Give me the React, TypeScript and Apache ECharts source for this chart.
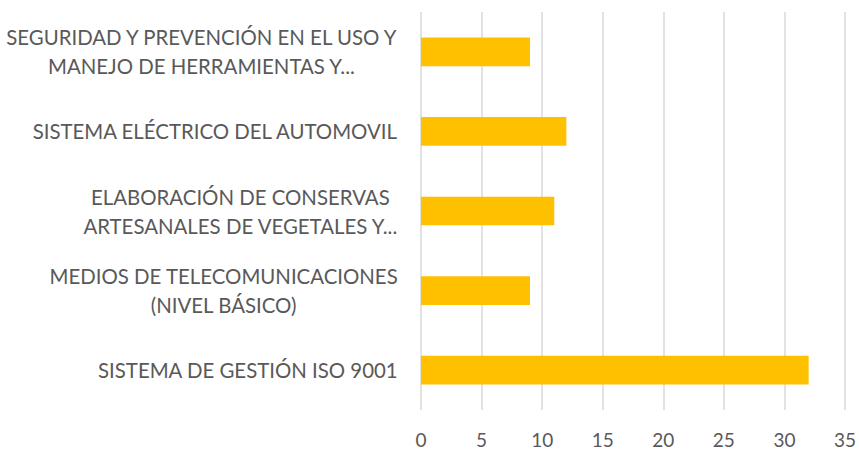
import React, { useEffect, useRef } from "react";
import * as echarts from "echarts";

const categories: string[] = [
  "SEGURIDAD Y PREVENCIÓN EN EL USO Y\nMANEJO DE HERRAMIENTAS Y...",
  "SISTEMA ELÉCTRICO DEL AUTOMOVIL",
  "ELABORACIÓN DE CONSERVAS\nARTESANALES DE VEGETALES Y...",
  "MEDIOS DE TELECOMUNICACIONES\n(NIVEL BÁSICO)",
  "SISTEMA DE GESTIÓN ISO 9001",
];
const values: number[] = [9, 12, 11, 9, 32];
const xMin = 0;
const xMax = 35;
const xInterval = 5;

const FONT = "Lato";
const LABEL_SIZE = 20.4;
const TEXT_COLOR = "#595959";
const BAR_COLOR = "#FFC000";

export default function App() {
  const ref = useRef<HTMLDivElement>(null);
  useEffect(() => {
    if (!ref.current) return;
    const chart = echarts.init(ref.current, null, { renderer: "svg" });
    chart.setOption({
      animation: false,
      grid: {
        left: 421,
        right: 14,
        top: 12,
        bottom: 40,
        containLabel: false,
        outerBoundsMode: "none",
      },
      xAxis: {
        type: "value",
        min: xMin,
        max: xMax,
        interval: xInterval,
        axisLine: { show: false },
        axisTick: { show: false },
        splitLine: { show: true, lineStyle: { color: "#D9D9D9", width: 1.5 } },
        axisLabel: {
          color: TEXT_COLOR,
          fontFamily: FONT,
          fontSize: 19,
          margin: 20,
        },
      },
      yAxis: {
        type: "category",
        inverse: true,
        data: categories,
        axisLine: { show: false },
        axisTick: { show: false },
        splitLine: { show: false },
        axisLabel: {
          interval: 0,
          align: "right",
          margin: 23,
          hideOverlap: false,
          formatter: (v: string) =>
            v
              .split("\n")
              .map((l) => `{c|${l}}`)
              .join("\n"),
          rich: {
            c: {
              align: "center",
              color: TEXT_COLOR,
              fontFamily: FONT,
              fontSize: LABEL_SIZE,
              lineHeight: 29,
            },
          },
        },
      },
      series: [
        {
          type: "bar",
          data: values,
          barCategoryGap: "64%",
          itemStyle: { color: BAR_COLOR },
        },
      ],
    });
    return () => chart.dispose();
  }, []);
  return (
    <div
      ref={ref}
      style={{ position: "fixed", left: 0, top: 0, width: 859, height: 450, background: "#fff" }}
    />
  );
}
